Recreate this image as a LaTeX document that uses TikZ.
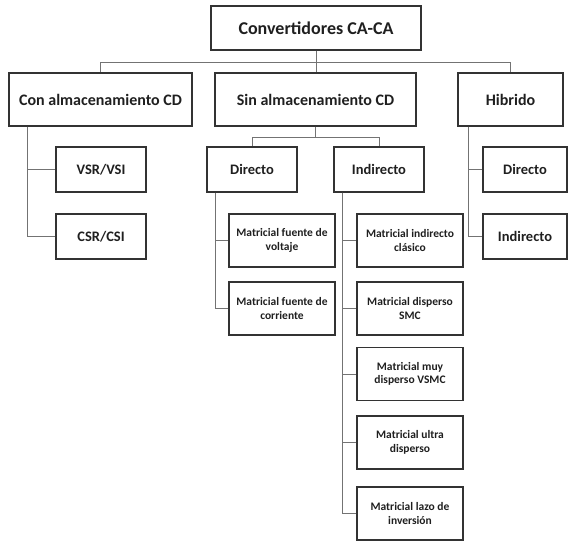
\documentclass[tikz,border=0pt]{standalone}
\usepackage{fontspec}
\setmainfont{Carlito}
\begin{document}
\begin{tikzpicture}[x=1pt,y=-1pt,
  boxbase/.style={draw=black!80, line width=1.2pt, inner sep=0pt, align=center, text=black!88},
  topbox/.style={boxbase, minimum width=210pt, minimum height=44pt, font=\bfseries\fontsize{18}{20}\selectfont},
  lvltwo/.style={boxbase, minimum height=53pt, font=\bfseries\fontsize{16}{18}\selectfont},
  lvlthree/.style={boxbase, minimum height=45pt, font=\bfseries\fontsize{14.5}{16}\selectfont},
  leafbox/.style={boxbase, minimum width=106pt, minimum height=53pt, font=\bfseries\fontsize{11.5}{13.5}\selectfont},
  conn/.style={draw=black!55, line width=1pt}]
\useasboundingbox (0,0) rectangle (569,541);

% nodes
\node[topbox] (top) at (316,28) {Convertidores CA-CA};
\node[lvltwo, minimum width=183pt] (con) at (100.5,99.5) {Con almacenamiento CD};
\node[lvltwo, minimum width=201pt] (sin) at (315.5,99.5) {Sin almacenamiento CD};
\node[lvltwo, minimum width=105pt] (hib) at (510.5,99.5) {Hibrido};

\node[lvlthree, minimum width=90pt] (vsr) at (101,169.5) {VSR/VSI};
\node[lvlthree, minimum width=90pt] (csr) at (101,236.5) {CSR/CSI};
\node[lvlthree, minimum width=90pt] (dir) at (252,169.5) {Directo};
\node[lvlthree, minimum width=90pt] (ind) at (379,169.5) {Indirecto};
\node[lvlthree, minimum width=84pt] (hdir) at (525,169.5) {Directo};
\node[lvlthree, minimum width=84pt] (hind) at (525,236.5) {Indirecto};

\node[leafbox] (mfv) at (282,240.5) {Matricial fuente de\\voltaje};
\node[leafbox] (mfc) at (282,308.5) {Matricial fuente de\\corriente};

\node[leafbox] (ia) at (410,240.5) {Matricial indirecto\\clásico};
\node[leafbox] (ib) at (410,308.5) {Matricial disperso\\SMC};
\node[leafbox] (ic) at (410,374) {Matricial muy\\disperso VSMC};
\node[leafbox] (id) at (410,442.5) {Matricial ultra\\disperso};
\node[leafbox] (ie) at (410,513.5) {Matricial lazo de\\inversión};

% connectors
\draw[conn] (top.south) -- ++(0,11.5) -| (con.north);
\draw[conn] (top.south) -- ++(0,11.5) -| (hib.north);
\draw[conn] (top.south) -- (top.south |- sin.north);

\draw[conn] (con.south west) ++(19,0) |- (vsr.west);
\draw[conn] (con.south west) ++(19,0) |- (csr.west);

\draw[conn] (sin.south) -- ++(0,11) -| (dir.north);
\draw[conn] (sin.south) -- ++(0,11) -| (ind.north);

\draw[conn] (dir.south west) ++(9,0) |- (mfv.west);
\draw[conn] (dir.south west) ++(9,0) |- (mfc.west);

\draw[conn] (ind.south west) ++(9,0) |- (ia.west);
\draw[conn] (ind.south west) ++(9,0) |- (ib.west);
\draw[conn] (ind.south west) ++(9,0) |- (ic.west);
\draw[conn] (ind.south west) ++(9,0) |- (id.west);
\draw[conn] (ind.south west) ++(9,0) |- (ie.west);

\draw[conn] (hib.south west) ++(11,0) |- (hdir.west);
\draw[conn] (hib.south west) ++(11,0) |- (hind.west);
\end{tikzpicture}
\end{document}
